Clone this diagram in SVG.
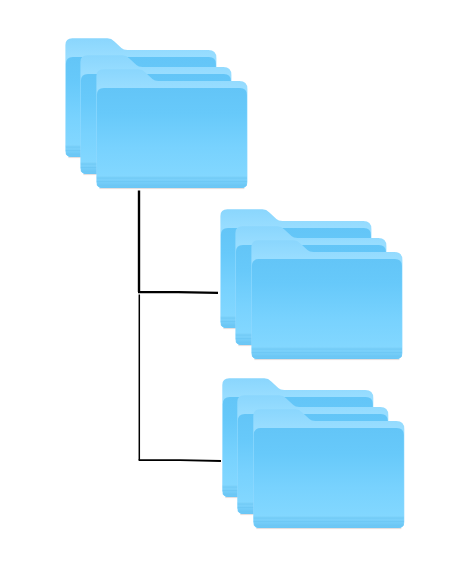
<svg xmlns="http://www.w3.org/2000/svg" width="460" height="583" viewBox="0 0 460 583">
<style>
.wire{fill:none;stroke:#000;stroke-linecap:butt;stroke-linejoin:miter}
</style>
<defs>
<linearGradient id="back" x1="0" y1="0" x2="0" y2="1"><stop offset="0" stop-color="#8ad6fd"/><stop offset="0.15" stop-color="#98ddff"/><stop offset="1" stop-color="#8fd8ff"/></linearGradient>
<linearGradient id="panel" x1="0" y1="0" x2="0" y2="1"><stop offset="0" stop-color="#63c5f7"/><stop offset="0.25" stop-color="#67c9fa"/><stop offset="0.6" stop-color="#78d2fe"/><stop offset="0.88" stop-color="#82d7ff"/><stop offset="1" stop-color="#7ed3fd"/></linearGradient>
<linearGradient id="foot" x1="0" y1="0" x2="0" y2="1"><stop offset="0" stop-color="#80d4fc"/><stop offset="1" stop-color="#6ac6f5"/></linearGradient>
<g id="folder">
<path d="M3 119.6H148" stroke="#e2dcdc" stroke-width="1" fill="none"/>
<path d="M0 7Q0 0.3 7 0.3H42Q46 0.3 49 3.5L56 10Q58 12 62 12H143Q151 12 151 20V113Q151 119 145 119H6Q0 119 0 113Z" fill="url(#back)"/>
<path d="M0.5 26Q0.5 19 7.5 19H143.5Q150.5 19 150.5 26V113Q150.5 119 144.5 119H6.5Q0.5 119 0.5 113Z" fill="url(#panel)"/>
<path d="M0.5 107H150.5V113Q150.5 119 144.5 119H6.5Q0.5 119 0.5 113Z" fill="url(#foot)"/>
<path d="M0.5 109H150.5M0.5 112.5H150.5M0.5 116H150.5" stroke="#6cc6f4" stroke-width="0.8" fill="none"/>
</g>
<g id="stack">
<use href="#folder" x="0" y="0"/>
<use href="#folder" x="15" y="17"/>
<use href="#folder" x="31" y="31"/>
</g>
</defs>
<rect width="460" height="583" fill="#fff"/>
<g id="connectors">
<path class="wire" stroke-width="2.4" d="M139 190.5V292"/>
<path class="wire" stroke-width="2.2" d="M138 292.2H178L218 292.8"/>
<path class="wire" stroke-width="1.5" d="M139.3 294.5V460"/>
<path class="wire" stroke-width="1.8" d="M138.6 460.2H180L221 461"/>
</g>
<g id="folders-top"><use href="#stack" x="65.4" y="38"/></g>
<g id="folders-middle"><use href="#stack" x="220.4" y="209"/></g>
<g id="folders-bottom"><use href="#stack" x="222.3" y="378"/></g>
</svg>
